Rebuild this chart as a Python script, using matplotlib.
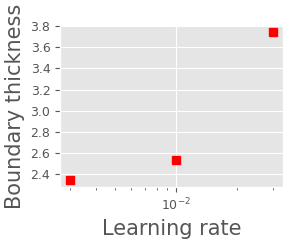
import matplotlib
matplotlib.use("Agg")
import matplotlib.pyplot as plt
from matplotlib.ticker import MultipleLocator

plt.style.use("ggplot")

# learning rates and measured boundary thickness
learning_rate = [0.003, 0.01, 0.03]
boundary_thickness = [2.35, 2.54, 3.74]

fig = plt.figure(figsize=(2.93, 2.43), dpi=100)
ax = fig.add_axes([0.205, 0.230, 0.761, 0.667])

ax.plot(learning_rate, boundary_thickness, "s", color="red", markersize=5.3)
ax.set_xscale("log")
ax.yaxis.set_major_locator(MultipleLocator(0.2))

ax.set_xlabel("Learning rate", fontsize=15, color="#555555")
ax.set_ylabel("Boundary thickness", fontsize=15, color="#555555")
ax.tick_params(labelsize=9, colors="#555555")

fig.savefig("out.png", dpi=100)
